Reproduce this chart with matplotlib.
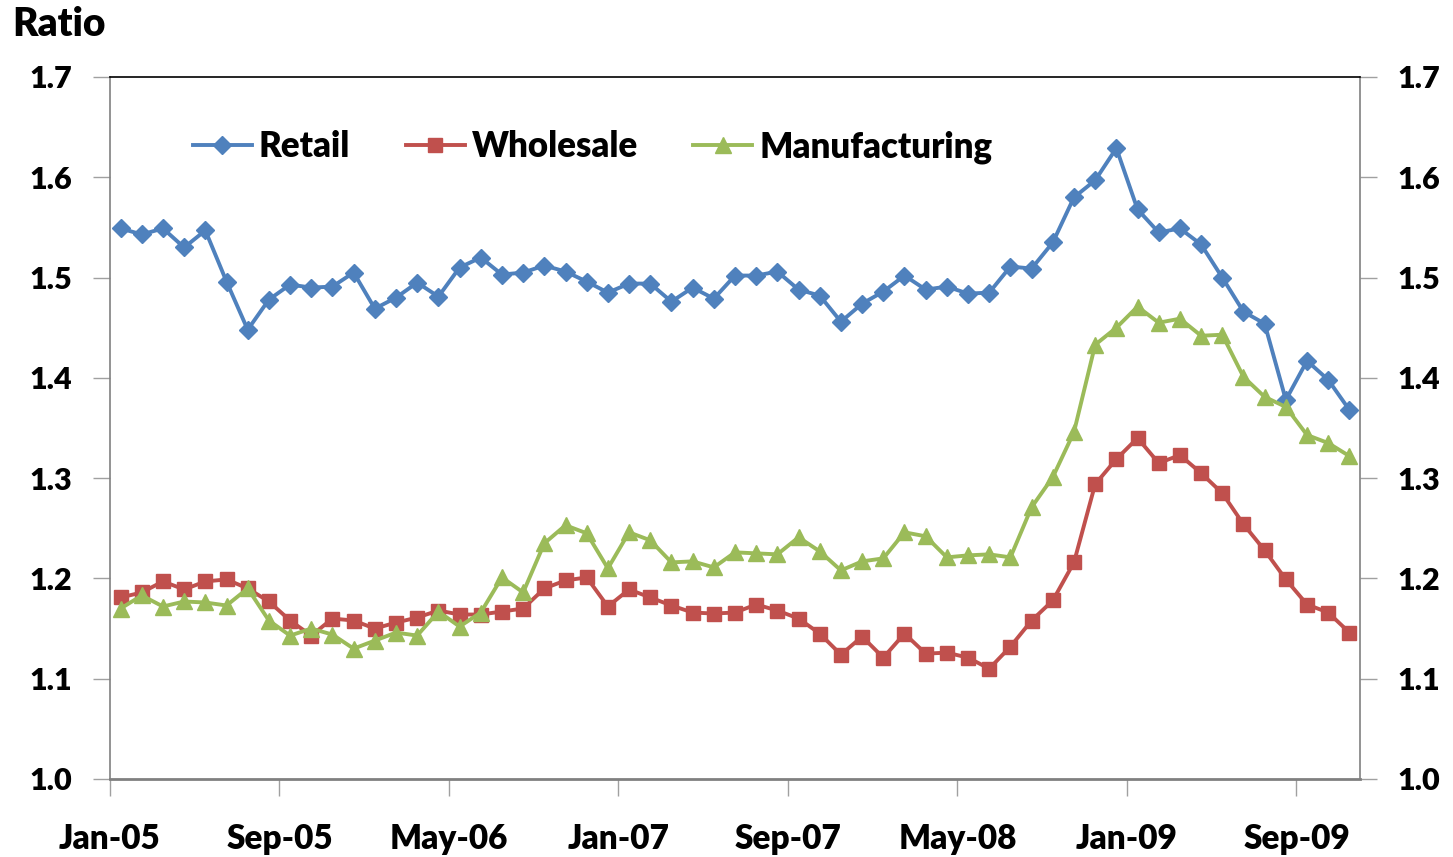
import matplotlib.pyplot as plt
import numpy as np

# monthly ratios, Jan-05 .. Nov-09
retail = [1.549, 1.543, 1.549, 1.530, 1.547, 1.496, 1.448, 1.478, 1.493, 1.490,
          1.491, 1.505, 1.469, 1.480, 1.495, 1.481, 1.510, 1.520, 1.503, 1.505,
          1.512, 1.506, 1.496, 1.485, 1.494, 1.494, 1.476, 1.490, 1.479, 1.502,
          1.502, 1.506, 1.488, 1.482, 1.456, 1.474, 1.486, 1.502, 1.488, 1.491,
          1.484, 1.485, 1.511, 1.509, 1.535, 1.580, 1.597, 1.629, 1.568, 1.545,
          1.549, 1.533, 1.500, 1.466, 1.454, 1.378, 1.417, 1.398, 1.368]
wholesale = [1.181, 1.186, 1.197, 1.189, 1.197, 1.199, 1.190, 1.177, 1.158, 1.143,
             1.160, 1.158, 1.150, 1.156, 1.161, 1.168, 1.164, 1.164, 1.167, 1.170,
             1.190, 1.198, 1.201, 1.172, 1.189, 1.181, 1.173, 1.166, 1.165, 1.166,
             1.174, 1.168, 1.160, 1.145, 1.124, 1.142, 1.121, 1.145, 1.125, 1.126,
             1.121, 1.110, 1.132, 1.158, 1.178, 1.216, 1.294, 1.319, 1.340, 1.315,
             1.323, 1.305, 1.285, 1.254, 1.228, 1.199, 1.174, 1.166, 1.146]
manufacturing = [1.170, 1.183, 1.172, 1.177, 1.176, 1.173, 1.190, 1.158, 1.143, 1.150,
                 1.144, 1.130, 1.138, 1.146, 1.143, 1.167, 1.152, 1.166, 1.201, 1.186,
                 1.235, 1.253, 1.245, 1.210, 1.246, 1.238, 1.216, 1.217, 1.211, 1.226,
                 1.225, 1.224, 1.241, 1.227, 1.208, 1.217, 1.220, 1.246, 1.242, 1.221,
                 1.223, 1.224, 1.221, 1.271, 1.301, 1.346, 1.433, 1.450, 1.471, 1.455,
                 1.459, 1.442, 1.443, 1.401, 1.381, 1.371, 1.343, 1.335, 1.322]
tick_labels = ["Jan-05", "Sep-05", "May-06", "Jan-07", "Sep-07", "May-08", "Jan-09", "Sep-09"]

FONT = "Lato"
WEIGHT = "heavy"
plt.rcParams["font.family"] = [FONT, "DejaVu Sans"]
plt.rcParams["font.weight"] = WEIGHT

fig = plt.figure(figsize=(14.53, 8.57), dpi=100)
ax = fig.add_axes([110 / 1453, 78 / 857, 1250 / 1453, 702 / 857])

x = np.arange(len(retail))
ax.plot(x, retail, color="#4F81BD", lw=2.8, marker="D", ms=9, label="Retail")
ax.plot(x, wholesale, color="#C0504D", lw=2.8, marker="s", ms=9.5, label="Wholesale")
ax.plot(x, manufacturing, color="#9BBB59", lw=2.8, marker="^", ms=11, label="Manufacturing")

ax.set_xlim(-0.5, len(retail) - 0.5)
ax.set_ylim(1.0, 1.7)
ax.set_xticks(np.arange(len(tick_labels)) * 8 - 0.5)
ax.set_xticklabels(tick_labels)
yt = np.arange(1.0, 1.71, 0.1)
ax.set_yticks(yt)
ax.set_yticklabels([f"{v:.1f}" for v in yt])

ax.tick_params(axis="x", length=12, width=1, color="#A0A0A0", pad=20, labelsize=24)
ax.tick_params(axis="y", length=12, width=1, color="#A0A0A0", pad=15, labelsize=22,
               left=True, right=True, labelleft=True, labelright=True)
for lab in ax.get_xticklabels() + ax.get_yticklabels():
    lab.set_fontweight(WEIGHT)

for side in ["left", "right"]:
    ax.spines[side].set_color("#808080")
    ax.spines[side].set_linewidth(1.2)
ax.spines["bottom"].set_color("#808080")
ax.spines["bottom"].set_linewidth(2)
ax.spines["top"].set_color("black")
ax.spines["top"].set_linewidth(1.2)

leg = ax.legend(loc="center", bbox_to_anchor=(0.386, 0.900), ncol=3, frameon=False,
                handlelength=1.7, handletextpad=0.2, columnspacing=1.6,
                prop={"family": FONT, "weight": WEIGHT, "size": 25})

fig.text(12 / 1453, 1 - 6 / 857, "Ratio", ha="left", va="top", fontsize=28, fontweight=WEIGHT)

fig.savefig("out.png", dpi=100)
